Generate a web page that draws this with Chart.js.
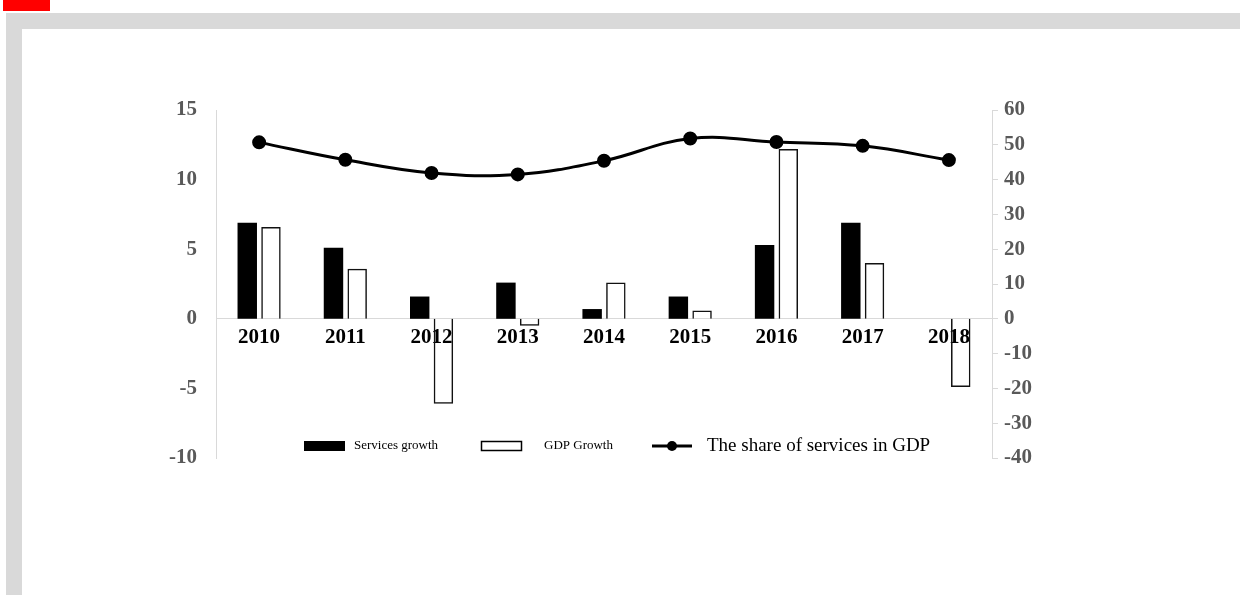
<!DOCTYPE html>
<html>
<head>
<meta charset="utf-8">
<script src="https://cdn.jsdelivr.net/npm/chart.js@4.4.1/dist/chart.umd.min.js"></script>
<style>
  html, body { margin: 0; padding: 0; background: #fff; width: 1240px; height: 595px; overflow: hidden; }
  .red { position: absolute; left: 3px; top: 0; width: 47px; height: 11px; background: #ff0000; }
  .bar-top { position: absolute; left: 6px; top: 13px; width: 1234px; height: 16px; background: #d9d9d9; }
  .bar-left { position: absolute; left: 6px; top: 13px; width: 16px; height: 582px; background: #d9d9d9; }
  #wrap { position: absolute; left: 22px; top: 29px; width: 1218px; height: 566px; }
</style>
</head>
<body>
<div class="red"></div>
<div class="bar-top"></div>
<div class="bar-left"></div>
<div id="wrap"><canvas id="chart"></canvas></div>
<script>
// chart data
const years = ['2010', '2011', '2012', '2013', '2014', '2015', '2016', '2017', '2018'];
const servicesGrowth = [6.9, 5.1, 1.6, 2.6, 0.7, 1.6, 5.3, 6.9, 0];
const gdpGrowth = [6.6, 3.6, -6.1, -0.5, 2.6, 0.6, 12.2, 4.0, -4.9];
const servicesShare = [50.7, 45.7, 41.9, 41.5, 45.4, 51.8, 50.8, 49.7, 45.6];
const leftAxis = { min: -10, max: 15, step: 5 };
const rightAxis = { min: -40, max: 60, step: 10 };

const tickFont = { family: 'Liberation Serif', size: 21, weight: 'bold' };

// legend drawn inside the plot, near the bottom
const bottomLegend = {
  id: 'bottomLegend',
  afterDraw(chart) {
    const ctx = chart.ctx;
    const y = 417;
    ctx.save();
    ctx.textBaseline = 'middle';
    ctx.fillStyle = '#000';
    ctx.fillRect(282, 412, 41, 10);
    ctx.font = '13px "Liberation Serif"';
    ctx.fillText('Services growth', 332, y);

    ctx.strokeStyle = '#000';
    ctx.lineWidth = 1.5;
    ctx.strokeRect(459.5, 412.5, 40, 9);
    ctx.fillText('GDP Growth', 522, y);

    ctx.lineWidth = 3;
    ctx.beginPath();
    ctx.moveTo(630, y);
    ctx.lineTo(670, y);
    ctx.stroke();
    ctx.beginPath();
    ctx.arc(650, y, 5, 0, Math.PI * 2);
    ctx.fill();
    ctx.font = '19px "Liberation Serif"';
    ctx.fillText('The share of services in GDP', 685, y);
    ctx.restore();
  }
};

const ctx = document.getElementById('chart').getContext('2d');
new Chart(ctx, {
  type: 'bar',
  data: {
    labels: years,
    datasets: [
      {
        type: 'line',
        label: 'The share of services in GDP',
        data: servicesShare,
        yAxisID: 'y1',
        borderColor: '#000',
        backgroundColor: '#000',
        borderWidth: 3,
        pointRadius: 5.5,
        tension: 0.4,
        order: 0
      },
      {
        label: 'Services growth',
        data: servicesGrowth,
        yAxisID: 'y',
        backgroundColor: '#000',
        borderWidth: 0,
        barPercentage: 0.82,
        categoryPercentage: 0.55,
        order: 1
      },
      {
        label: 'GDP Growth',
        data: gdpGrowth,
        yAxisID: 'y',
        backgroundColor: 'rgba(255,255,255,0)',
        borderColor: '#111',
        borderWidth: 1.5,
        barPercentage: 0.82,
        categoryPercentage: 0.55,
        order: 1
      }
    ]
  },
  options: {
    responsive: true,
    maintainAspectRatio: false,
    animation: false,
    layout: { padding: { left: 134, right: 198, top: 81, bottom: 137 } },
    plugins: {
      legend: { display: false },
      tooltip: { enabled: false }
    },
    scales: {
      x: {
        position: { y: 0 },
        grid: { display: true, drawOnChartArea: false, drawTicks: false },
        border: { display: true, color: '#d9d9d9', width: 1 },
        ticks: { color: '#000', font: tickFont, padding: 6 }
      },
      y: {
        position: 'left',
        min: leftAxis.min,
        max: leftAxis.max,
        grid: { display: false, drawTicks: false },
        border: { display: true, color: '#d9d9d9', width: 1 },
        ticks: { stepSize: leftAxis.step, color: '#595959', font: tickFont, padding: 19 },
        afterFit(scale) { scale.width = 60; }
      },
      y1: {
        position: 'right',
        min: rightAxis.min,
        max: rightAxis.max,
        grid: { display: true, drawOnChartArea: false, drawTicks: true, tickLength: 6, color: '#d9d9d9' },
        border: { display: true, color: '#d9d9d9', width: 1 },
        ticks: { stepSize: rightAxis.step, color: '#595959', font: tickFont, padding: 6 },
        afterFit(scale) { scale.width = 50; }
      }
    }
  },
  plugins: [bottomLegend]
});
</script>
</body>
</html>
